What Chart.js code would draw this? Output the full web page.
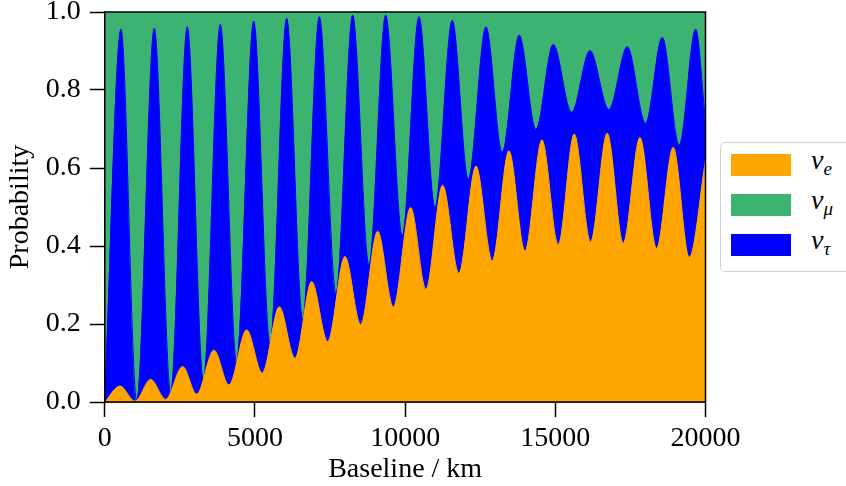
<!DOCTYPE html>
<html>
<head>
<meta charset="utf-8">
<script src="https://cdn.jsdelivr.net/npm/chart.js@4.4.1/dist/chart.umd.min.js"></script>
<style>
    body { margin: 0; background: #fff; }
    .wrap { position: relative; width: 846px; height: 486px; overflow: hidden; }
    .legend {
        position: absolute; left: 720px; top: 142px; width: 140px; height: 128px;
        border: 1px solid #d0d0d0; border-radius: 5px; background: #fff;
        font-family: "Liberation Serif", "DejaVu Serif", serif; font-size: 28px;
    }
    .item { position: absolute; left: 10px; height: 22px; }
    .swatch { position: absolute; left: 0; top: 0; width: 60px; height: 22px; }
    .lbl { position: absolute; left: 80px; top: -10px; font-style: italic; white-space: nowrap; }
    .lbl sub { font-size: 19px; vertical-align: -6px; }
</style>
</head>
<body>
<div class="wrap">
    <canvas id="myChart" width="846" height="486"></canvas>
    <div class="legend" id="legend"></div>
</div>
<script>
    // nu_e probability: turning points (km, P)
    const eKm = [0, 506, 1005, 1527, 2026, 2592, 3058, 3635, 4134, 4723, 5243, 5810, 6332, 6887, 7420,
        7996, 8519, 9084, 9604, 10183, 10692, 11248, 11791, 12357, 12900, 13455, 13988, 14554, 15097,
        15629, 16175, 16728, 17261, 17816, 18372, 18925, 19458, 20000]
    const eProb = [0, 0.041, 0.002, 0.058, 0.007, 0.091, 0.02, 0.133, 0.044, 0.185, 0.074, 0.244, 0.112, 0.309, 0.155,
        0.373, 0.199, 0.438, 0.244, 0.499, 0.289, 0.556, 0.33, 0.605, 0.362, 0.644, 0.387, 0.672, 0.404,
        0.687, 0.411, 0.689, 0.407, 0.678, 0.394, 0.653, 0.371, 0.62]

    // nu_e + nu_tau (upper edge of the blue band)
    const topKm = [0, 539, 1062, 1648, 2193, 2746, 3280, 3845, 4390, 4957, 5500, 6055, 6588, 7142, 7697,
        8252, 8795, 9351, 9904, 10459, 10992, 11568, 12101, 12690, 13232, 13798, 14354, 14930,
        15543, 16152, 16784, 17394, 18006, 18559, 19125, 19671, 20000]
    const topProb = [0, 0.956, 0.003, 0.958, 0.023, 0.962, 0.056, 0.968, 0.10, 0.977, 0.15, 0.984, 0.212, 0.988, 0.279,
        0.992, 0.351, 0.992, 0.426, 0.988, 0.499, 0.979, 0.571, 0.962, 0.64, 0.941, 0.699, 0.917,
        0.743, 0.901, 0.75, 0.911, 0.715, 0.935, 0.659, 0.956, 0.72]

    // all three flavours add up to one
    const totalKm = [0, 20000]
    const totalProb = [1, 1]

    const labels = ['ν<sub>e</sub>', 'ν<sub>μ</sub>', 'ν<sub>τ</sub>']
    const colors = ['#FFA500', '#3CB371', '#0000FF']

    const xTicks = [0, 5000, 10000, 15000, 20000]
    const yTicks = [0, 0.2, 0.4, 0.6, 0.8, 1.0]

    function pts(xs, ys) {
        return xs.map((x, i) => ({ x: x, y: ys[i] }))
    }

    const font = { family: '"Liberation Serif", "DejaVu Serif", serif', size: 28 }

    // full box round the plot
    const frame = {
        id: 'frame',
        afterDatasetsDraw(chart) {
            const a = chart.chartArea
            const c = chart.ctx
            c.save()
            c.strokeStyle = '#000'
            c.lineWidth = 1.5
            c.strokeRect(a.left, a.top, a.right - a.left, a.bottom - a.top)
            c.restore()
        }
    }

    const ctx = document.getElementById('myChart').getContext('2d')
    const chart = new Chart(ctx, {
        type: 'line',
        data: {
            datasets: [{
                label: 'nu_e',
                data: pts(eKm, eProb),
                backgroundColor: colors[0],
                borderColor: colors[0],
                borderWidth: 1,
                fill: 'origin'
            }, {
                label: 'nu_tau',
                data: pts(topKm, topProb),
                backgroundColor: colors[2],
                borderColor: colors[2],
                borderWidth: 1,
                fill: 'origin'
            }, {
                label: 'nu_mu',
                data: pts(totalKm, totalProb),
                backgroundColor: colors[1],
                borderColor: colors[1],
                borderWidth: 1,
                fill: 'origin'
            }]
        },
        options: {
            responsive: false,
            animation: false,
            cubicInterpolationMode: 'monotone',
            elements: { point: { radius: 0 } },
            layout: { padding: { left: 0, right: 140.5, top: 12, bottom: 0 } },
            plugins: { legend: { display: false }, tooltip: { enabled: false } },
            scales: {
                x: {
                    type: 'linear',
                    min: 0,
                    max: 20000,
                    afterBuildTicks: s => { s.ticks = xTicks.map(v => ({ value: v })) },
                    afterFit: s => { s.height = 84; s.paddingLeft = 0; s.paddingRight = 0 },
                    grid: { drawOnChartArea: false, tickLength: 15, tickWidth: 1.5, tickColor: '#000' },
                    border: { color: '#000', width: 1.5 },
                    ticks: { color: '#000', font: font, padding: 5, maxRotation: 0, callback: v => String(v) },
                    title: { display: true, text: 'Baseline / km', color: '#000', font: font, padding: 0 }
                },
                y: {
                    min: 0,
                    max: 1,
                    afterBuildTicks: s => { s.ticks = yTicks.map(v => ({ value: v })) },
                    afterFit: s => { s.width = 104.8; s.paddingTop = 0; s.paddingBottom = 0 },
                    grid: { drawOnChartArea: false, tickLength: 15, tickWidth: 1.5, tickColor: '#000' },
                    border: { color: '#000', width: 1.5 },
                    ticks: { color: '#000', font: font, padding: 9, callback: v => v.toFixed(1) },
                    title: { display: true, text: 'Probability', color: '#000', font: font, padding: { top: 4, bottom: 0 } }
                }
            }
        },
        plugins: [frame]
    })

    // legend as html so the subscripts stay real text
    const legend = document.getElementById('legend')
    const order = [0, 1, 2]
    order.forEach((k, i) => {
        const el = document.createElement('div')
        el.className = 'item'
        el.style.top = (11 + i * 40) + 'px'
        el.innerHTML = '<div class="swatch" style="background:' + colors[k] + '"></div><div class="lbl">' + labels[k] + '</div>'
        legend.appendChild(el)
    })
</script>
</body>
</html>
